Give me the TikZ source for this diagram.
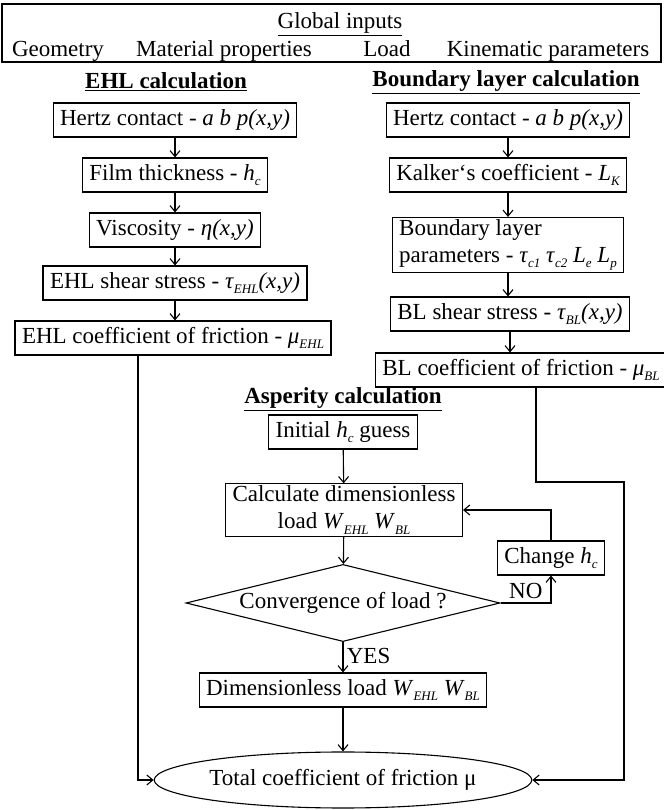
\documentclass[tikz,border=0pt]{standalone}
\usepackage{fontspec}
\setmainfont{Liberation Serif}
\usetikzlibrary{positioning,shapes.geometric,arrows.meta}
\newcommand{\lowidx}[1]{\raisebox{-0.5ex}{\fontsize{13}{13}\selectfont\itshape #1}}

\begin{document}
\begin{tikzpicture}[x=1pt, y=1pt,
            font=\fontsize{23}{27}\selectfont,
            stepbox/.style={draw, line width=1.1pt, inner xsep=7pt, inner ysep=2pt, minimum height=34pt},
            title/.style={font=\fontsize{23}{27}\selectfont\bfseries},
            link/.style={line width=1.1pt, -{Straight Barb[length=6pt, width=10pt]}},
            rowtext/.style={anchor=base}
        ]
            \useasboundingbox (0,0) rectangle (663,810);

            % Global inputs
            \node [draw, line width=1.1pt, minimum width=659pt, minimum height=58pt] (inputs) at (331.5,777) {};
            \node [rowtext] (global) at (340,781) {\underline{Global inputs}};
            \node [rowtext] (geom) at (58,753) {Geometry};
            \node [rowtext] (mat) at (224,753) {Material properties};
            \node [rowtext] (load) at (387,753) {Load};
            \node [rowtext] (kin) at (548,753) {Kinematic parameters};

            % Titles
            \node [title] (ehltitle) at (166,728) {\underline{EHL calculation}};
            \node [title] (bltitle) at (506,728) {\underline{Boundary layer calculation}};
            \node [title] (asptitle) at (343,411) {\underline{Asperity calculation}};

            % EHL column
            \node [stepbox] (hertzL) at (175,690) {Hertz contact - \textit{a b p(x,y)}};
            \node [stepbox] (film) at (175,635) {Film thickness - \textit{h}\lowidx{c}};
            \node [stepbox] (visc) at (175,580) {Viscosity - \textit{η(x,y)}};
            \node [stepbox] (shearL) at (175,527) {EHL shear stress - \textit{τ}\lowidx{EHL}\textit{(x,y)}};
            \node [stepbox] (muEHL) at (173,472) {EHL coefficient of friction - \textit{μ}\lowidx{EHL}};

            % Boundary layer column
            \node [stepbox] (hertzR) at (508,690) {Hertz contact - \textit{a b p(x,y)}};
            \node [stepbox] (kalker) at (508,635) {Kalker‘s coefficient - \textit{L}\lowidx{K}};
            \node [stepbox, align=left] (blpar) at (508,565) {Boundary layer\\parameters - \textit{τ}\lowidx{c1} \textit{τ}\lowidx{c2} \textit{L}\lowidx{e} \textit{L}\lowidx{p}};
            \node [stepbox] (shearR) at (510,496) {BL shear stress - \textit{τ}\lowidx{BL}\textit{(x,y)}};
            \node [stepbox] (muBL) at (521,440) {BL coefficient of friction - \textit{μ}\lowidx{BL}};

            % Asperity loop
            \node [stepbox] (init) at (343,378) {Initial \textit{h}\lowidx{c} guess};
            \node [stepbox, align=center] (calc) at (344,300) {Calculate dimensionless\\load \textit{W}\lowidx{EHL} \textit{W}\lowidx{BL}};
            \node [stepbox] (change) at (551,252) {Change \textit{h}\lowidx{c}};
            \node [draw, line width=1.1pt, diamond, aspect=3.7, inner sep=0pt, minimum width=314pt] (conv) at (343,207) {Convergence of load ?};
            \node [stepbox] (dimless) at (343,120) {Dimensionless load \textit{W}\lowidx{EHL} \textit{W}\lowidx{BL}};
            \node [draw, line width=1.1pt, ellipse, inner sep=0pt, minimum width=315pt, minimum height=56pt] (total) at (343,30) {Total coefficient of friction μ};

            \coordinate (dropL) at (138,0);
            \coordinate (dropR) at (536,0);
            \coordinate (bendR) at (624,328);

            % Arrows
            \draw [link] (hertzL) -- (film);
            \draw [link] (film) -- (visc);
            \draw [link] (visc) -- (shearL);
            \draw [link] (shearL.south) -- (shearL.south |- muEHL.north);
            \draw [link] (hertzR) -- (kalker);
            \draw [link] (kalker) -- (blpar);
            \draw [link] (blpar.south) -- (blpar.south |- shearR.north);
            \draw [link] (shearR.south) -- (shearR.south |- muBL.north);
            \draw [link] (init) -- (calc);
            \draw [link] (calc) -- (conv);
            \draw [link] (conv.east) -| node [pos=0.25, above] (no) {NO} (change.south);
            \draw [link] (change.north) |- (calc.east);
            \draw [link] (conv.south) -- node [right, pos=0.45] (yes) {YES} (dimless.north);
            \draw [link] (dimless) -- (total);
            \draw [link] (muEHL.south -| dropL) |- (total.west);
            \draw [link] (muBL.south -| dropR) |- (bendR) |- (total.east);
        \end{tikzpicture}
\end{document}
